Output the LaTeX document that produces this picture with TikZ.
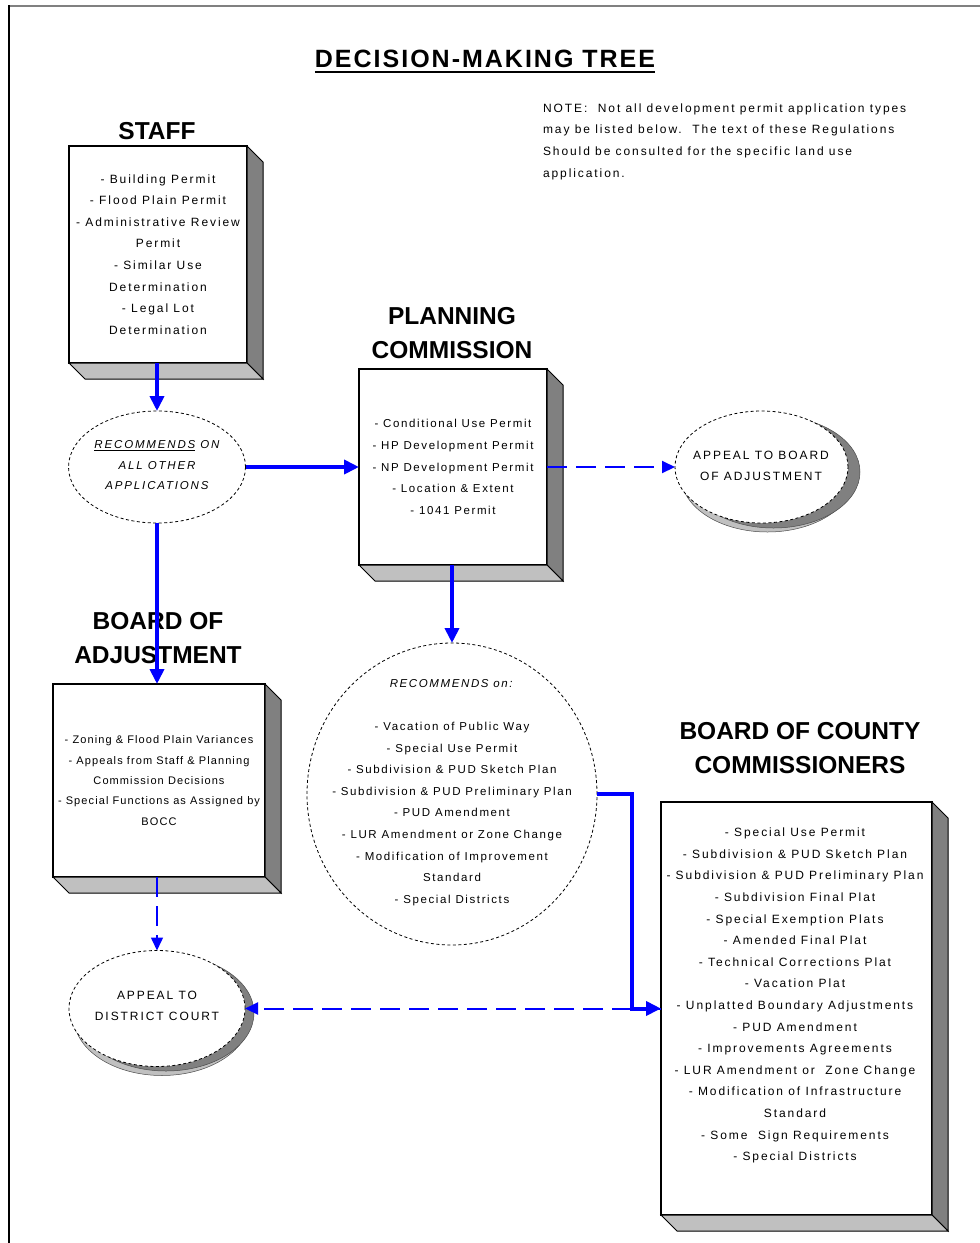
\documentclass[tikz,border=0pt]{standalone}
\usepackage{fontspec}
\usepackage{xcolor}
\usetikzlibrary{arrows.meta,shapes.geometric}
\setmainfont{Liberation Sans}
\newfontfamily\spacedfont[LetterSpace=14]{Liberation Sans}
\newfontfamily\widefont[LetterSpace=16]{Liberation Sans}
\newfontfamily\tightfont[LetterSpace=10]{Liberation Sans}
\newfontfamily\titlefont[LetterSpace=8]{Liberation Sans}
\definecolor{arrowblue}{RGB}{0,0,255}
\definecolor{sidegray}{RGB}{128,128,128}
\definecolor{floorgray}{RGB}{192,192,192}
\newcommand\boxdepth[1]{%
  \filldraw[fill=sidegray, line width=1pt] (#1.north east) -- ++(16,16) -- ([shift={(16,16)}]#1.south east) -- (#1.south east) -- cycle;
  \filldraw[fill=floorgray, line width=1pt] (#1.south west) -- ++(16,16) -- ([shift={(16,16)}]#1.south east) -- (#1.south east) -- cycle;
}
\begin{document}
\begin{tikzpicture}[x=1pt, y=-1pt,
    every node/.style={inner sep=0pt, outer sep=0pt},
    panel/.style={draw, fill=white, line width=1.2pt, align=center, font=\widefont\fontsize{12}{21.6}\selectfont},
    heading/.style={align=center, font=\bfseries\fontsize{24.5}{34}\selectfont},
    bubble/.style={draw, ellipse, fill=white, line width=0.8pt, dash pattern=on 3pt off 2.5pt},
    bodytext/.style={align=center, font=\widefont\fontsize{12}{21.6}\selectfont},
    mainflow/.style={arrowblue, line width=4pt, -{Triangle[length=15pt,width=14pt]}},
    appealflow/.style={arrowblue, line width=2pt, dash pattern=on 20pt off 9pt, -{Triangle[length=13pt,width=12pt]}}]
    \useasboundingbox (0,0) rectangle (980,1243);
    % frame
    \draw[sidegray, line width=2pt] (8,6) -- (980,6);
    \draw[line width=2pt] (9,5) -- (9,1243);
    % title and note
    \node[font=\titlefont\bfseries\fontsize{25}{30}\selectfont] (title) at (485,59) {DECISION-MAKING TREE};
    \draw[line width=2pt] ([yshift=-4pt]title.base west) -- ([yshift=-4pt]title.base east);
    \node[anchor=north west, align=left, font=\widefont\fontsize{12}{21.6}\selectfont] (note) at (543,103.5)
        {NOTE:\ \ Not all development permit application types\\may be listed below.\ \ The text of these Regulations\\Should be consulted for the specific land use\\application.};
    % headings
    \node[heading] (staffhead) at (157,131) {STAFF};
    \node[heading] (planhead) at (452,333) {PLANNING\\COMMISSION};
    \node[heading] (boahead) at (158,638) {BOARD OF\\ADJUSTMENT};
    \node[heading] (bocchead) at (800,748.5) {BOARD OF COUNTY\\COMMISSIONERS};
    % boxes
    \node[panel, minimum width=178, minimum height=217] (staff) at (158,254.5)
        {- Building Permit\\- Flood Plain Permit\\- Administrative Review\\Permit\\- Similar Use\\Determination\\- Legal Lot\\Determination};
    \boxdepth{staff}
    \node[panel, minimum width=188, minimum height=196, font=\spacedfont\fontsize{11.5}{21.6}\selectfont] (planning) at (453,467)
        {- Conditional Use Permit\\- HP Development Permit\\- NP Development Permit\\- Location \& Extent\\- 1041 Permit};
    \boxdepth{planning}
    \node[panel, minimum width=212, minimum height=193, font=\tightfont\fontsize{11}{20.3}\selectfont] (boa) at (159,780.5)
        {- Zoning \& Flood Plain Variances\\- Appeals from Staff \& Planning\\Commission Decisions\\- Special Functions as Assigned by\\BOCC};
    \boxdepth{boa}
    \node[panel, minimum width=271, minimum height=413] (bocc) at (796.5,1008.5) {};
    \boxdepth{bocc}
    \node[bodytext] (bocctext) at (795,995.5)
        {- Special Use Permit\\- Subdivision \& PUD Sketch Plan\\- Subdivision \& PUD Preliminary Plan\\- Subdivision Final Plat\\- Special Exemption Plats\\- Amended Final Plat\\- Technical Corrections Plat\\- Vacation Plat\\- Unplatted Boundary Adjustments\\- PUD Amendment\\- Improvements Agreements\\- LUR Amendment or\ \ Zone Change\\- Modification of Infrastructure\\Standard\\- Some\ \ Sign Requirements\\- Special Districts};
    % ellipses, the appeal ones with a shadow
    \node[bubble, minimum width=177, minimum height=112] (rec) at (157,467) {};
    \node[bodytext, font=\widefont\itshape\fontsize{11.5}{20.5}\selectfont] (rectext) at (157,465.5)
        {\underline{RECOMMENDS} ON\\ALL OTHER\\APPLICATIONS};
    \filldraw[fill=floorgray, draw=black!70, line width=0.5pt] (767.5,476) ellipse (86.5 and 56);
    \filldraw[fill=sidegray, draw=black!70, line width=0.5pt] (773.5,472) ellipse (86.5 and 56);
    \node[bubble, minimum width=173, minimum height=112] (appealboa) at (761.5,467) {};
    \node[bodytext] (appealboatext) at (761,466) {APPEAL TO BOARD\\OF ADJUSTMENT};
    \node[bubble, minimum width=290, minimum height=302] (bigrec) at (452,794) {};
    \node[bodytext, font=\spacedfont\fontsize{11.5}{21.6}\selectfont] (bigrectext) at (452,792.5)
        {\textit{RECOMMENDS on:}\\[21.6pt]- Vacation of Public Way\\- Special Use Permit\\- Subdivision \& PUD Sketch Plan\\- Subdivision \& PUD Preliminary Plan\\- PUD Amendment\\- LUR Amendment or Zone Change\\- Modification of Improvement\\Standard\\- Special Districts};
    \filldraw[fill=floorgray, draw=black!70, line width=0.5pt] (162,1017.5) ellipse (88 and 58);
    \filldraw[fill=sidegray, draw=black!70, line width=0.5pt] (166,1013) ellipse (88 and 58);
    \node[bubble, minimum width=176, minimum height=116] (district) at (157,1008.5) {};
    \node[bodytext] (districttext) at (157,1006) {APPEAL TO\\DISTRICT COURT};
    % connectors
    \draw[mainflow] (staff.south -| rec.north) -- (rec.north);
    \draw[mainflow] (rec.east) -- (planning.west);
    \draw[mainflow] (rec.south) -- (rec.south |- boa.north);
    \draw[appealflow] (planning.east) -- (appealboa.west);
    \draw[mainflow] (planning.south -| bigrec.north) -- (bigrec.north);
    \draw[appealflow] (bocc.west) -- (district.east);
    \draw[mainflow] (bigrec.east) -- ++(35,0) |- (bocc.west);
    \draw[appealflow, line width=1.5pt] (district.north |- boa.south) -- (district.north);
\end{tikzpicture}
\end{document}
